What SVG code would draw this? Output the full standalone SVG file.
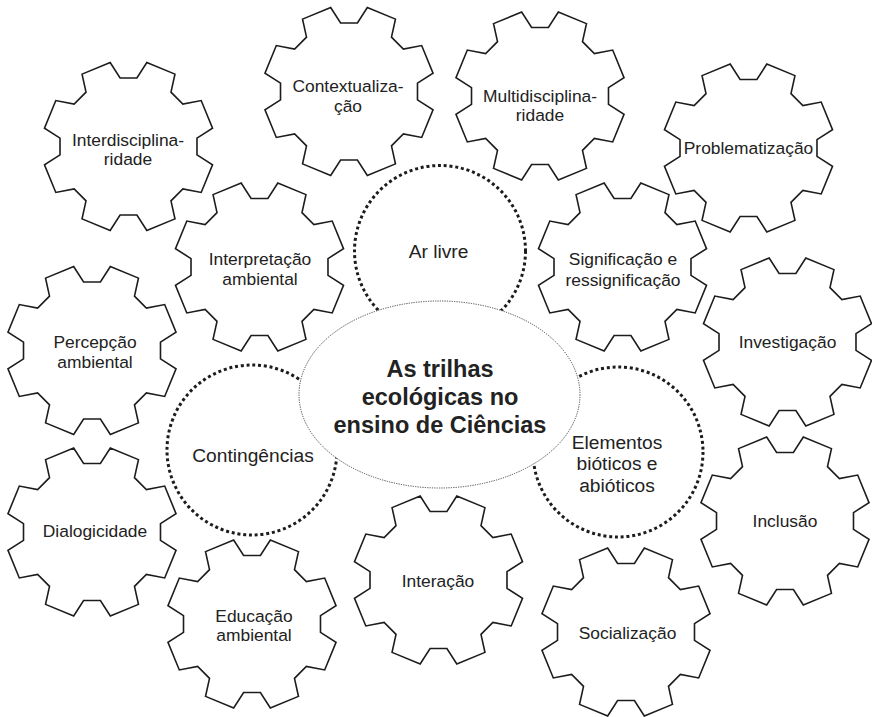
<svg xmlns="http://www.w3.org/2000/svg" width="872" height="717" viewBox="0 0 872 717">
  <style>
    .gear { fill: #ffffff; stroke: #1c1c1c; stroke-width: 1.6; stroke-linejoin: miter; }
    .ring { fill: none; stroke: #1c1c1c; stroke-width: 3; stroke-dasharray: 3 2.8; }
    .core { fill: #ffffff; stroke: #444444; stroke-width: 1; stroke-dasharray: 1.2 1.2; }
    text { font-family: "Liberation Sans", Arial, Helvetica, sans-serif; fill: #222222; text-anchor: middle; }
    .lbl { font-size: 17.4px; }
    .big { font-size: 19.2px; }
    .title { font-size: 23.5px; font-weight: bold; }
  </style>
  <defs>
    <!-- eight-tooth cog, centred on the origin, valley at the top -->
    <path id="cog" class="gear" d="M-8.41,-68.49 L8.41,-68.49 L18.32,-84.03 L46.46,-72.37 L42.48,-54.37 L54.37,-42.48 L72.69,-45.95 L84.03,-18.32 L68.49,-8.41 L68.49,8.41 L84.03,18.32 L72.69,45.95 L54.37,42.48 L42.48,54.37 L46.46,72.37 L18.32,84.03 L8.41,68.49 L-8.41,68.49 L-18.32,84.03 L-46.46,72.37 L-42.48,54.37 L-54.37,42.48 L-72.69,45.95 L-84.03,18.32 L-68.49,8.41 L-68.49,-8.41 L-84.03,-18.32 L-72.69,-45.95 L-54.37,-42.48 L-42.48,-54.37 L-46.46,-72.37 L-18.32,-84.03 Z"/>
  </defs>

  <rect width="872" height="717" fill="#ffffff"/>

  <!-- cogs -->
  <g id="interdisciplinaridade">
    <use href="#cog" x="128.5" y="146.5"/>
    <text class="lbl" x="128" y="146">Interdisciplina-</text>
    <text class="lbl" x="128" y="165">ridade</text>
  </g>
  <g id="contextualizacao">
    <use href="#cog" x="349" y="91.5"/>
    <text class="lbl" x="348" y="91.5">Contextualiza-</text>
    <text class="lbl" x="348" y="111.5">ção</text>
  </g>
  <g id="multidisciplinaridade">
    <use href="#cog" x="540" y="96"/>
    <text class="lbl" x="540" y="102">Multidisciplina-</text>
    <text class="lbl" x="540" y="121">ridade</text>
  </g>
  <g id="problematizacao">
    <use href="#cog" x="748.5" y="148"/>
    <text class="lbl" x="748.5" y="154">Problematização</text>
  </g>
  <g id="interpretacao-ambiental">
    <use href="#cog" x="259.5" y="267"/>
    <text class="lbl" x="260" y="265">Interpretação</text>
    <text class="lbl" x="260" y="285">ambiental</text>
  </g>
  <g id="significacao">
    <use href="#cog" x="622.5" y="267"/>
    <text class="lbl" x="623" y="265">Significação e</text>
    <text class="lbl" x="623" y="286">ressignificação</text>
  </g>
  <g id="percepcao-ambiental">
    <use href="#cog" x="92" y="350.5"/>
    <text class="lbl" x="95" y="347.5">Percepção</text>
    <text class="lbl" x="95" y="367.5">ambiental</text>
  </g>
  <g id="investigacao">
    <use href="#cog" x="787.5" y="342"/>
    <text class="lbl" x="787.5" y="348">Investigação</text>
  </g>
  <g id="dialogicidade">
    <use href="#cog" x="92" y="532"/>
    <text class="lbl" x="95" y="537">Dialogicidade</text>
  </g>
  <g id="inclusao">
    <use href="#cog" x="785" y="521"/>
    <text class="lbl" x="785" y="527">Inclusão</text>
  </g>
  <g id="educacao-ambiental">
    <use href="#cog" x="252" y="624"/>
    <text class="lbl" x="254" y="622">Educação</text>
    <text class="lbl" x="254" y="641">ambiental</text>
  </g>
  <g id="interacao">
    <use href="#cog" x="438.5" y="580"/>
    <text class="lbl" x="438" y="587">Interação</text>
  </g>
  <g id="socializacao">
    <use href="#cog" x="626" y="632"/>
    <text class="lbl" x="627.5" y="638.5">Socialização</text>
  </g>

  <!-- dotted rings round the central theme -->
  <g id="ar-livre">
    <circle class="ring" cx="440" cy="251" r="85.5"/>
    <text class="big" x="438.5" y="257.5">Ar livre</text>
  </g>
  <g id="contingencias">
    <circle class="ring" cx="252" cy="450" r="85"/>
    <text class="big" x="253" y="461.5">Contingências</text>
  </g>
  <g id="elementos">
    <circle class="ring" cx="618" cy="452" r="85"/>
    <text class="big" x="617" y="448.5">Elementos</text>
    <text class="big" x="617" y="470">bióticos e</text>
    <text class="big" x="617" y="491.5">abióticos</text>
  </g>

  <!-- central theme, drawn last so it covers the ring ends -->
  <g id="trilhas-ecologicas">
    <ellipse class="core" cx="439.5" cy="394.5" rx="140.5" ry="93.5"/>
    <text class="title" x="440" y="377">As trilhas</text>
    <text class="title" x="440" y="405">ecológicas no</text>
    <text class="title" x="440" y="433">ensino de Ciências</text>
  </g>
</svg>
